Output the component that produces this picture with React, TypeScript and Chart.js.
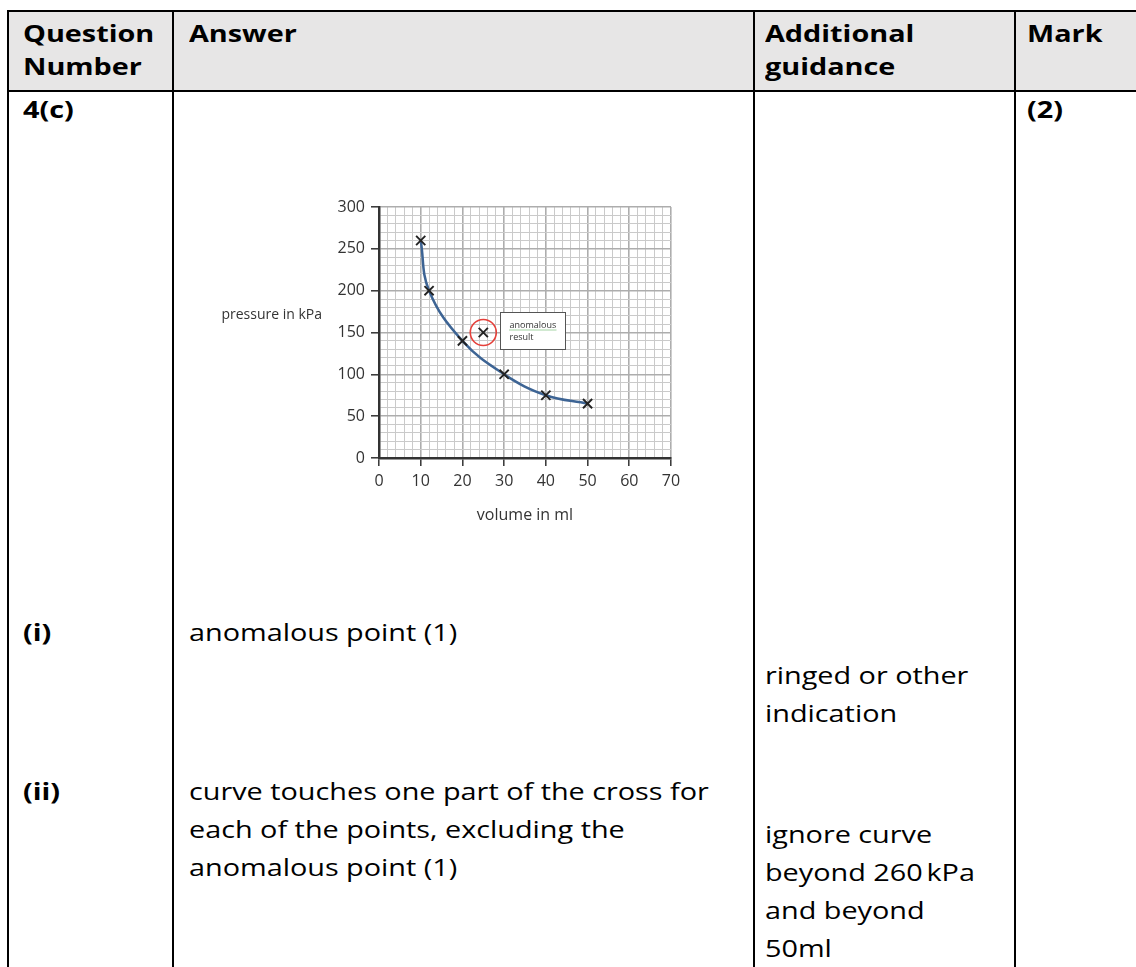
import React, { useEffect, useRef } from "react";
import { Chart, registerables } from "chart.js";

Chart.register(...registerables);
Chart.defaults.font.family = "'Open Sans', sans-serif";

// ---------- chart data ----------
const VOLUME_ML = [10, 12, 20, 25, 30, 40, 50];
const PRESSURE_KPA = [260, 200, 140, 150, 100, 75, 65];
const ANOMALOUS_INDEX = 3;

const X_MIN = 0;
const X_MAX = 70;
const X_MAJOR = 10;
const X_MINOR = 2;
const Y_MIN = 0;
const Y_MAX = 300;
const Y_MAJOR = 50;
const Y_MINOR = 10;

const X_TITLE = "volume in ml";
const Y_TITLE = "pressure in kPa";
const CALLOUT_LINES = ["anomalous", "result"];
// callout box corners in data units
const CALLOUT_X = [29, 44.5];
const CALLOUT_Y = [130, 174];

// ---------- table text ----------
const HEADERS = [
  { x: 23, lines: ["Question", "Number"] },
  { x: 189, lines: ["Answer"] },
  { x: 765, lines: ["Additional", "guidance"] },
  { x: 1027, lines: ["Mark"] },
];
const QUESTION_NUMBER = "4(c)";
const MARK = "(2)";
const PART_I = "(i)";
const PART_I_ANSWER = ["anomalous point (1)"];
const PART_I_GUIDANCE = ["ringed or other", "indication"];
const PART_II = "(ii)";
const PART_II_ANSWER = [
  "curve touches one part of the cross for",
  "each of the points, excluding the",
  "anomalous point (1)",
];
const PART_II_GUIDANCE = ["ignore curve", "beyond 260\u202FkPa", "and beyond", "50ml"];

const POINTS = VOLUME_ML.map((x, i) => ({ x, y: PRESSURE_KPA[i] }));
const CURVE = POINTS.filter((_, i) => i !== ANOMALOUS_INDEX);
const ANOMALOUS = [POINTS[ANOMALOUS_INDEX]];

const isMult = (v: number, m: number) => Math.abs(v / m - Math.round(v / m)) < 1e-6;

const annotPlugin = {
  id: "annot",
  afterDatasetsDraw(chart: any) {
    const { ctx, scales } = chart;
    const xs = scales.x;
    const ys = scales.y;
    const l = Math.round(xs.getPixelForValue(CALLOUT_X[0])) + 0.5;
    const r = Math.round(xs.getPixelForValue(CALLOUT_X[1])) + 0.5;
    const t = Math.round(ys.getPixelForValue(CALLOUT_Y[1])) + 0.5;
    const b = Math.round(ys.getPixelForValue(CALLOUT_Y[0])) + 0.5;
    ctx.save();
    ctx.fillStyle = "#ffffff";
    ctx.fillRect(l, t, r - l, b - t);
    ctx.strokeStyle = "#555";
    ctx.lineWidth = 1;
    ctx.strokeRect(l, t, r - l, b - t);
    ctx.font = "9px 'Open Sans'";
    ctx.fillStyle = "#333";
    ctx.textAlign = "left";
    ctx.textBaseline = "alphabetic";
    ctx.fillText(CALLOUT_LINES[0], l + 9, t + 15);
    const w = ctx.measureText(CALLOUT_LINES[0]).width;
    ctx.beginPath();
    ctx.setLineDash([1, 1]);
    ctx.strokeStyle = "#4aa84a";
    ctx.moveTo(l + 9, t + 17.5);
    ctx.lineTo(l + 9 + w, t + 17.5);
    ctx.stroke();
    ctx.setLineDash([]);
    ctx.fillText(CALLOUT_LINES[1], l + 9, t + 27);
    ctx.restore();
  },
  afterDraw(chart: any) {
    const { ctx, chartArea } = chart;
    ctx.save();
    ctx.fillStyle = "#333";
    ctx.textBaseline = "alphabetic";
    ctx.font = "14px 'Open Sans'";
    ctx.textAlign = "right";
    ctx.fillText(Y_TITLE, chartArea.left - 57, chartArea.top + 112);
    ctx.font = "16px 'Open Sans'";
    ctx.textAlign = "center";
    ctx.fillText(X_TITLE, (chartArea.left + chartArea.right) / 2, chartArea.bottom + 62);
    ctx.restore();
  },
};

function Text(props: { x: number; y: number; lh: number; bold?: boolean; lines: string[] }) {
  const { x, y, lh, bold, lines } = props;
  return (
    <div
      style={{
        position: "absolute",
        left: x,
        top: y,
        fontSize: 24,
        lineHeight: lh + "px",
        fontWeight: bold ? 700 : 500,
        whiteSpace: "nowrap",
        transform: "scaleX(1.2)",
        transformOrigin: "0 0",
      }}
    >
      {lines.map((l, i) => (
        <div key={i}>{l}</div>
      ))}
    </div>
  );
}

const line = (left: number, top: number, width: number, height: number) => (
  <div style={{ position: "absolute", left, top, width, height, background: "#000" }} />
);

export default function App() {
  const ref = useRef<HTMLCanvasElement>(null);

  useEffect(() => {
    if (!ref.current) return;
    const gridOpts = (major: number) => ({
      color: (c: any) => (isMult(c.tick.value, major) ? "#adadad" : "#cacaca"),
      lineWidth: (c: any) => (isMult(c.tick.value, major) ? 1.6 : 1),
      tickLength: 8,
      tickColor: (c: any) => (isMult(c.tick.value, major) ? "#333" : "rgba(0,0,0,0)"),
      tickWidth: 1.5,
    });
    const chart = new Chart(ref.current, {
      type: "line",
      data: {
        datasets: [
          {
            label: "readings",
            data: POINTS,
            showLine: false,
            pointStyle: "crossRot",
            pointRadius: 6.5,
            pointBorderColor: "#222",
            pointBorderWidth: 1.9,
            pointBackgroundColor: "rgba(0,0,0,0)",
          },
          {
            label: "ring",
            data: ANOMALOUS,
            showLine: false,
            pointStyle: "circle",
            pointRadius: 13,
            pointBorderColor: "#e5403a",
            pointBorderWidth: 1.6,
            pointBackgroundColor: "rgba(0,0,0,0)",
          },
          {
            label: "curve",
            data: CURVE,
            showLine: true,
            borderColor: "#3d6494",
            borderWidth: 2.5,
            pointRadius: 0,
            tension: 0.4,
            fill: false,
          },
        ],
      } as any,
      options: {
        responsive: false,
        animation: false,
        events: [],
        layout: { padding: { top: 17, right: 19, left: 0, bottom: 0 } },
        plugins: { legend: { display: false }, tooltip: { enabled: false } },
        scales: {
          x: {
            type: "linear",
            min: X_MIN,
            max: X_MAX,
            afterFit: (s: any) => {
              s.height = 72;
            },
            ticks: {
              stepSize: X_MINOR,
              autoSkip: false,
              maxRotation: 0,
              padding: 6,
              color: "#333",
              font: { size: 16 },
              callback: (v: any) => (isMult(Number(v), X_MAJOR) ? String(v) : ""),
            },
            grid: gridOpts(X_MAJOR),
            border: { color: "#333", width: 2.5 },
          },
          y: {
            type: "linear",
            min: Y_MIN,
            max: Y_MAX,
            afterFit: (s: any) => {
              s.width = 189;
            },
            ticks: {
              stepSize: Y_MINOR,
              autoSkip: false,
              padding: 6,
              color: "#333",
              font: { size: 16 },
              callback: (v: any) => (isMult(Number(v), Y_MAJOR) ? String(v) : ""),
            },
            grid: gridOpts(Y_MAJOR),
            border: { color: "#333", width: 2.5 },
          },
        },
      } as any,
      plugins: [annotPlugin],
    });
    return () => chart.destroy();
  }, []);

  return (
    <div
      style={{
        position: "absolute",
        left: 0,
        top: 0,
        width: 1136,
        height: 967,
        overflow: "hidden",
        background: "#fff",
        color: "#000",
        fontFamily: "'Open Sans', sans-serif",
      }}
    >
      <div style={{ position: "absolute", left: 9, top: 12, width: 1127, height: 78, background: "#e7e6e6" }} />
      {line(7, 10, 1129, 2)}
      {line(7, 90, 1129, 2)}
      {line(7, 10, 2, 957)}
      {line(172, 10, 2, 957)}
      {line(753, 10, 2, 957)}
      {line(1014, 10, 2, 957)}

      {HEADERS.map((h, i) => (
        <Text key={i} x={h.x} y={16.2} lh={33} bold lines={h.lines} />
      ))}
      <Text x={23} y={92.2} lh={33} bold lines={[QUESTION_NUMBER]} />
      <Text x={1027} y={92.2} lh={33} bold lines={[MARK]} />

      <Text x={23} y={612.7} lh={38} bold lines={[PART_I]} />
      <Text x={189} y={612.7} lh={38} lines={PART_I_ANSWER} />
      <Text x={765} y={655.7} lh={38} lines={PART_I_GUIDANCE} />

      <Text x={23} y={771.7} lh={38} bold lines={[PART_II]} />
      <Text x={189} y={771.7} lh={38} lines={PART_II_ANSWER} />
      <Text x={765} y={814.7} lh={38} lines={PART_II_GUIDANCE} />

      <canvas
        ref={ref}
        width={500}
        height={340}
        style={{ position: "absolute", left: 190, top: 190, width: 500, height: 340 }}
      />
    </div>
  );
}
